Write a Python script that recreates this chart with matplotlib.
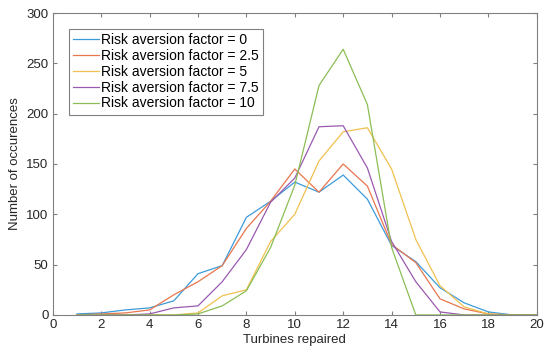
import matplotlib
matplotlib.use("Agg")
import matplotlib.pyplot as plt

plt.rcParams['font.family'] = ['Liberation Sans', 'DejaVu Sans']

turbines = list(range(1, 21))
raf_0 = [1, 2, 5, 7, 14, 41, 49, 97, 113, 132, 122, 139, 115, 69, 53, 27, 12, 3, 0, 0]
raf_2_5 = [0, 1, 2, 5, 20, 33, 49, 86, 113, 145, 122, 150, 128, 70, 52, 16, 6, 1, 0, 0]
raf_5 = [0, 0, 0, 0, 0, 2, 19, 25, 73, 100, 153, 182, 186, 145, 75, 29, 8, 1, 0, 0]
raf_7_5 = [0, 0, 0, 1, 7, 9, 33, 65, 112, 136, 187, 188, 146, 73, 33, 3, 0, 0, 0, 0]
raf_10 = [0, 0, 0, 0, 0, 1, 9, 24, 67, 129, 228, 264, 209, 67, 0, 0, 0, 0, 0, 0]

series = [raf_0, raf_2_5, raf_5, raf_7_5, raf_10]
labels = ['Risk aversion factor = 0', 'Risk aversion factor = 2.5',
          'Risk aversion factor = 5', 'Risk aversion factor = 7.5',
          'Risk aversion factor = 10']
# matlab default colours, a bit washed out like the scan
colors = ['#3C9BDA', '#E8764F', '#F0C150', '#9A5AB0', '#8CBD55']

fig = plt.figure(figsize=(5.5, 3.62), dpi=100)
ax = fig.add_axes([0.096, 0.130, 0.880, 0.834])

for vals, lab, c in zip(series, labels, colors):
    ax.plot(turbines, vals, color=c, linewidth=0.9, label=lab)

ax.set_xlim(0, 20)
ax.set_ylim(0, 300)
ax.set_xticks(range(0, 21, 2))
ax.set_yticks(range(0, 301, 50))
ax.tick_params(direction='in', top=True, right=True, labelsize=9.5,
               length=3, color='#808080', labelcolor='#262626', pad=3)
for sp in ax.spines.values():
    sp.set_color('#808080')
    sp.set_linewidth(0.8)

ax.set_xlabel('Turbines repaired', fontsize=9.5, color='#262626', labelpad=2)
ax.set_ylabel('Number of occurences', fontsize=9.5, color='#262626', labelpad=4)

leg = ax.legend(loc='upper left', bbox_to_anchor=(0.033, 0.947), fontsize=10,
                fancybox=False, framealpha=1, edgecolor='#808080',
                handlelength=1.85, handletextpad=0.15, labelspacing=0.13,
                borderpad=0.3, borderaxespad=0)
leg.get_frame().set_linewidth(0.8)

fig.savefig('out.png', dpi=100)
